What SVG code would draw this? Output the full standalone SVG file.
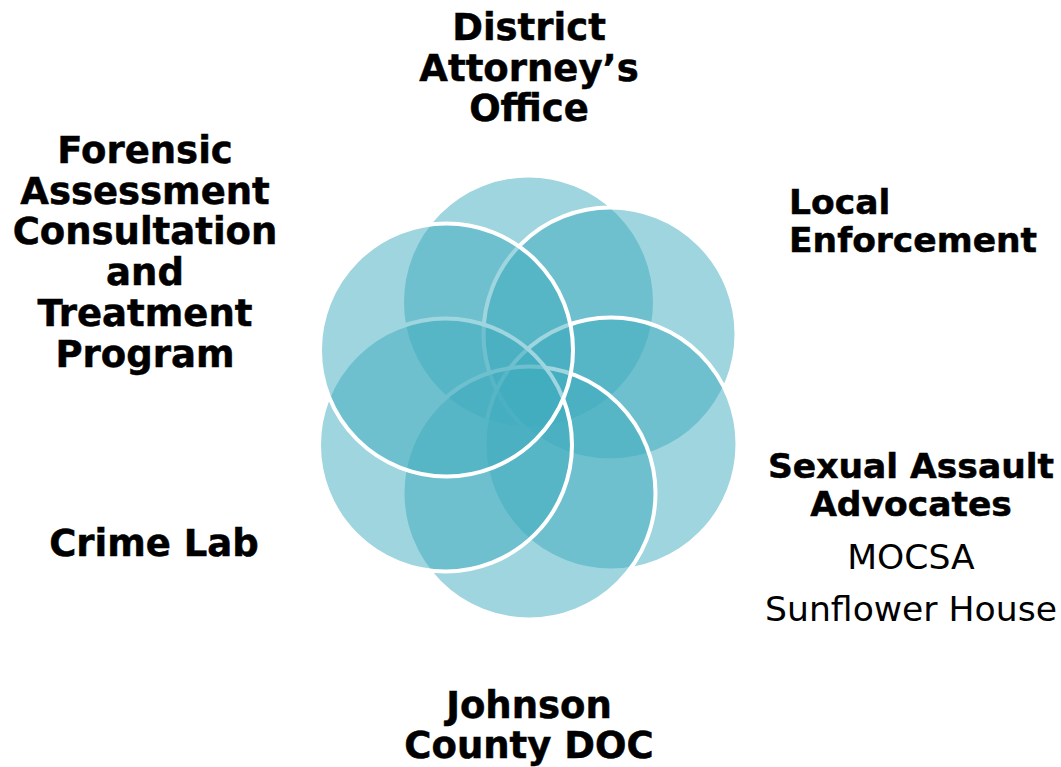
<svg xmlns="http://www.w3.org/2000/svg" width="1061" height="767" viewBox="0 0 1061 767">
<style>
.c{fill:#3FABBD;fill-opacity:0.5;stroke:#FFFFFF;stroke-width:4}
.b{font-family:"DejaVu Sans",Verdana,sans-serif;font-weight:bold;font-size:37px;fill:#000;stroke:#000;stroke-width:0.5}
.s{font-size:34.5px}
.r{font-family:"DejaVu Sans",Verdana,sans-serif;font-weight:normal;font-size:34.6px;fill:#000}
.m{text-anchor:middle}
</style>
<rect width="1061" height="767" fill="#FFFFFF"/>
<g id="connectors"/>
<g id="district-attorney">
<circle class="c" cx="528.5" cy="302" r="126.5"/>
<text class="b m" x="529" y="40">District</text>
<text class="b m" x="529" y="80.5">Attorney’s</text>
<text class="b m" x="529" y="121">Office</text>
</g>
<g id="local-enforcement">
<circle class="c" cx="610" cy="334" r="126.5"/>
<text class="b s" x="789" y="214">Local</text>
<text class="b s" x="789" y="252">Enforcement</text>
</g>
<g id="sexual-assault-advocates">
<circle class="c" cx="611" cy="444" r="126.5"/>
<text class="b s m" x="911" y="478">Sexual Assault</text>
<text class="b s m" x="911" y="516">Advocates</text>
<text class="r m" x="911" y="569">MOCSA</text>
<text class="r m" x="911" y="621">Sunflower House</text>
</g>
<g id="johnson-county-doc">
<circle class="c" cx="529" cy="493" r="126.5"/>
<text class="b m" x="529" y="718">Johnson</text>
<text class="b m" x="529" y="758">County DOC</text>
</g>
<g id="crime-lab">
<circle class="c" cx="445.5" cy="445" r="126.5"/>
<text class="b m" x="154" y="556">Crime Lab</text>
</g>
<g id="forensic-assessment">
<circle class="c" cx="446.5" cy="350" r="126.5"/>
<text class="b m" x="145" y="163">Forensic</text>
<text class="b m" x="145" y="204">Assessment</text>
<text class="b m" x="145" y="244">Consultation</text>
<text class="b m" x="145" y="285">and</text>
<text class="b m" x="145" y="326">Treatment</text>
<text class="b m" x="145" y="367">Program</text>
</g>
</svg>
